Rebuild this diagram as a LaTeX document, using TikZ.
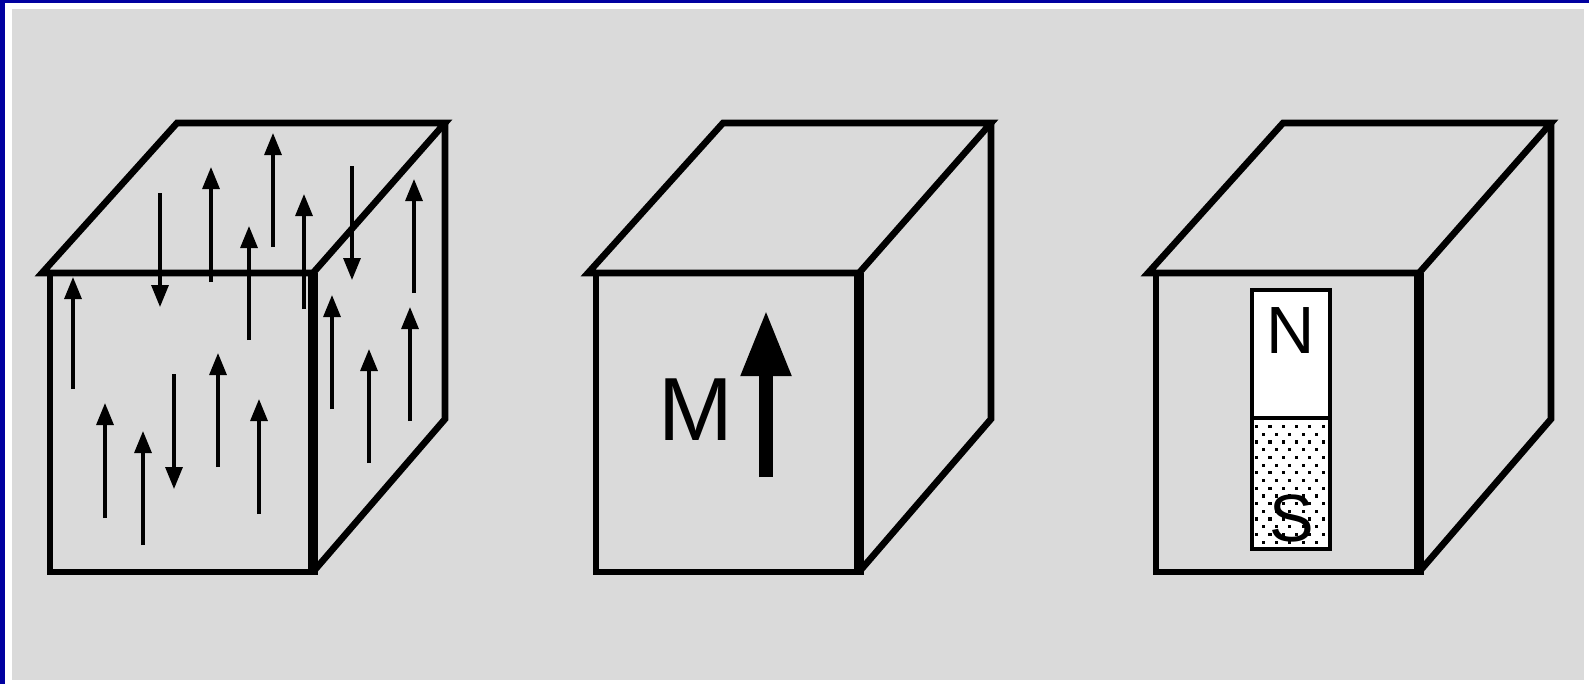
\documentclass[tikz,border=0pt]{standalone}
\usepackage{fontspec}
\setmainfont{Liberation Sans}
\usepackage{tikz}
\usetikzlibrary{arrows.meta}
\usepackage{xcolor}
\definecolor{panel}{HTML}{DADADA}
\definecolor{frame}{HTML}{0000A0}
\tikzset{
  edge/.style={draw=black,line width=0.066cm,line join=miter},
  spin/.style={-{Triangle[length=0.22cm,width=0.17cm]},draw=black,line width=0.032cm},
  bigspin/.style={-{Triangle[length=0.66cm,width=0.47cm]},draw=black,line width=0.14cm},
  pole/.style={font=\fontsize{19pt}{22pt}\selectfont,inner sep=0pt,anchor=base},
  cube/.pic={
    \draw[edge] (-8,273) -- (127,123) -- (395,123) -- (263,273) -- cycle;
    \draw[edge] (0,273) -- (0,572) -- (263,572);
    \draw[edge] (263,572) -- (395,419) -- (395,123);
    \draw[edge,line width=0.095cm] (263,273) -- (263,575);
  }
}

\begin{document}
\begin{tikzpicture}[x=0.01cm,y=-0.01cm]
  \useasboundingbox (0,0) rectangle (1589,684);
  % frame and panel
  \fill[white] (0,0) rectangle (1589,684);
  \fill[frame] (0,0) rectangle (5,684);
  \fill[frame] (0,0) rectangle (1589,3);
  \fill[panel] (12,9) rectangle (1584,680);

  % three blocks
  \pic at (50,0) {cube};
  \pic at (596,0) {cube};
  \pic at (1156,0) {cube};

  % disordered moments
  \foreach \x/\a/\b in {73/389/277, 160/193/307, 211/282/167, 273/247/133,
      249/340/226, 304/309/194, 352/166/280, 414/293/179, 332/409/295,
      410/421/307, 369/463/349, 105/518/403, 143/545/431, 174/374/489,
      218/467/353, 259/514/399}
    \draw[spin] (\x,\a) -- (\x,\b);

  % net magnetisation
  \node[font=\fontsize{25.5pt}{30pt}\selectfont,inner sep=0pt,anchor=base] (mlabel) at (696,440) {M};
  \draw[bigspin] (766,477) -- (766,310);

  % bar magnet
  \fill[white] (1252,290) rectangle (1330,549);
  \begin{scope}
    \clip (1252,419) rectangle (1330,549);
    \foreach \r in {0,...,16}
      \foreach \c in {0,...,6}
        \fill ({1255+13.3*\c+6.65*mod(\r,2)},{425+7.7*\r}) rectangle ++(3.2,3.2);
  \end{scope}
  \draw[line width=0.035cm] (1252,290) rectangle (1330,549);
  \draw[line width=0.035cm] (1252,418) -- (1330,418);
  \node[pole] (north) at (1290.5,353) {N};
  \node[pole] (south) at (1291.5,541) {S};
\end{tikzpicture}
\end{document}
